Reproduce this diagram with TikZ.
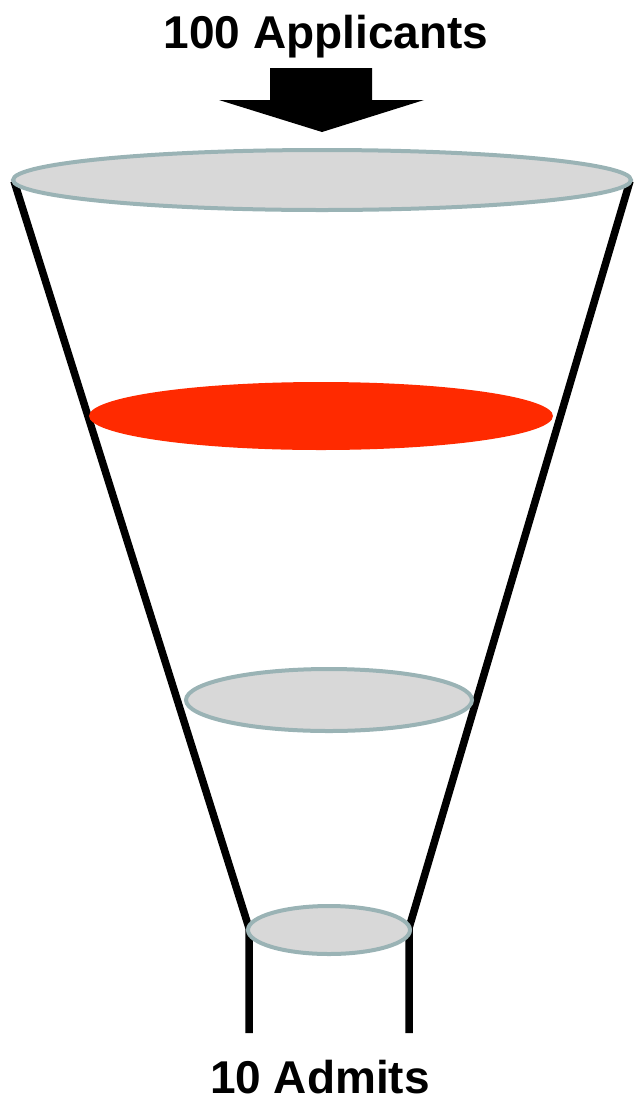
\documentclass[tikz,border=0pt]{standalone}
\usepackage{fontspec}
\setmainfont{Liberation Sans}
\definecolor{rimgray}{HTML}{9AB3B5}
\definecolor{discgray}{HTML}{D8D8D8}
\definecolor{redfill}{HTML}{FF2A00}
\begin{document}
\begin{tikzpicture}[x=1pt,y=-1pt,
  wall/.style={line width=7.5pt,black},
  disc/.style={fill=discgray,draw=rimgray,line width=4pt},
  reddisc/.style={fill=redfill},
  label/.style={font=\fontsize{46}{50}\selectfont\bfseries,inner sep=0pt,anchor=base}]
\useasboundingbox (0,0) rectangle (635,1096);
% coordinates
\coordinate (tl) at (14,181);
\coordinate (tr) at (630,181);
\coordinate (bl) at (249,928);
\coordinate (br) at (409,928);
\coordinate (bl2) at (249,1033);
\coordinate (br2) at (409,1033);
% funnel walls
\draw[wall] (tl) -- (bl) -- (bl2);
\draw[wall] (tr) -- (br) -- (br2);
% discs
\draw[disc] (322,180) ellipse [x radius=309, y radius=30];
\fill[reddisc] (321,416) ellipse [x radius=232, y radius=34];
\draw[disc] (329,700) ellipse [x radius=143, y radius=31];
\draw[disc] (329,930) ellipse [x radius=81, y radius=24];
% arrow
\fill[black] (270,68) -- (372,68) -- (372,100) -- (424,100) -- (322,132) -- (219,100) -- (270,100) -- cycle;
% labels
\node[label] (top) at (326,48) {100 Applicants};
\node[label] (bot) at (320,1093) {10 Admits};
\end{tikzpicture}
\end{document}
